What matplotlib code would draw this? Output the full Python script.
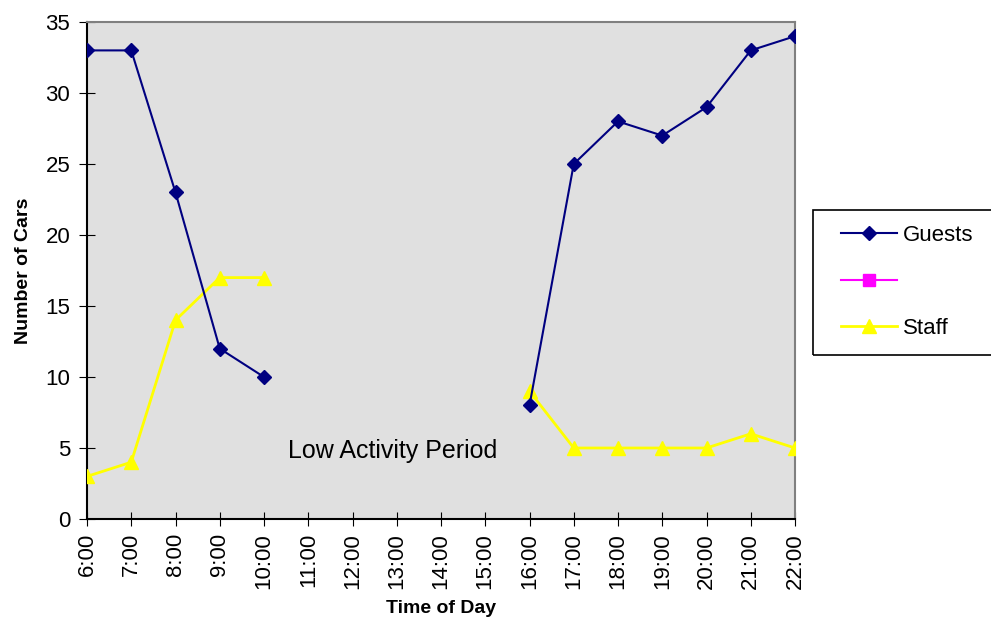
import numpy as np
import matplotlib
matplotlib.use("Agg")
import matplotlib.pyplot as plt
from matplotlib.lines import Line2D
from matplotlib.patches import Rectangle

plt.rcParams["font.family"] = ["Liberation Sans", "DejaVu Sans"]

hours = ["6:00", "7:00", "8:00", "9:00", "10:00", "11:00", "12:00", "13:00",
         "14:00", "15:00", "16:00", "17:00", "18:00", "19:00", "20:00", "21:00", "22:00"]
nan = np.nan
guests = [33, 33, 23, 12, 10, nan, nan, nan, nan, nan, 8, 25, 28, 27, 29, 33, 34]
staff = [3, 4, 14, 17, 17, nan, nan, nan, nan, nan, 9, 5, 5, 5, 5, 6, 5]

navy = "#000080"
yellow = "#FFFF00"
magenta = "#FF00FF"

W, H = 991, 624
fig = plt.figure(figsize=(W / 100, H / 100), dpi=100)
ax = fig.add_axes([87 / W, 1 - 519 / H, (795 - 87) / W, (519 - 22) / H])
ax.set_facecolor("#E0E0E0")

x = np.arange(len(hours))
ax.plot(x, staff, color=yellow, lw=2, marker="^", ms=10, mec=yellow, zorder=3)
ax.plot(x, guests, color=navy, lw=1.5, marker="D", ms=7, mec=navy, zorder=4)

ax.text(x[0] + 6.9, 4.8, "Low Activity Period", ha="center", va="center", fontsize=18)

ax.set_xlim(0, len(hours) - 1)
ax.set_ylim(0, 35)
ax.set_xticks(x)
ax.set_xticklabels(hours, rotation=90, fontsize=16)
ax.set_yticks(range(0, 36, 5))
ax.tick_params(axis="y", labelsize=16, direction="inout", length=12, pad=6)
ax.tick_params(axis="x", direction="inout", length=10, pad=5)
ax.set_xlabel("Time of Day", fontsize=14, fontweight="bold", labelpad=8)
ax.set_ylabel("Number of Cars", fontsize=14, fontweight="bold", labelpad=10)

for side in ("top", "right"):
    ax.spines[side].set_color("#808080")
    ax.spines[side].set_linewidth(1.5)
for side in ("left", "bottom"):
    ax.spines[side].set_color("black")
    ax.spines[side].set_linewidth(1.5)

# legend frame drawn by hand; it runs off the right edge like the original
fig.patches.append(Rectangle((813 / W, 1 - 355 / H), (1000 - 813) / W, (355 - 210) / H,
                             transform=fig.transFigure, fill=False,
                             edgecolor="black", linewidth=1.2))
handles = [
    Line2D([], [], color=navy, lw=1.5, marker="D", ms=7),
    Line2D([], [], color=magenta, lw=1.5, marker="s", ms=9),
    Line2D([], [], color=yellow, lw=2, marker="^", ms=10),
]
fig.legend(handles, ["Guests", " ", "Staff"], loc="center left",
           bbox_to_anchor=(841 / W, 1 - 282 / H), fontsize=16, frameon=False,
           handlelength=2.5, handletextpad=0.3, borderpad=0,
           borderaxespad=0, labelspacing=1.15)

fig.savefig("out.png", dpi=100)
